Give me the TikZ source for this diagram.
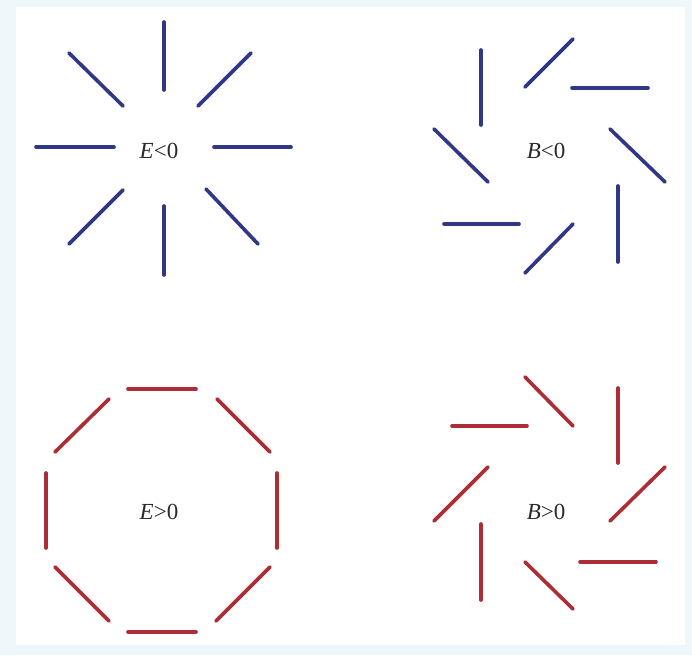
\documentclass[tikz,border=0pt]{standalone}
\usepackage{fontspec}
\setmainfont{Liberation Serif}
\definecolor{navy}{HTML}{303886}
\definecolor{darkred}{HTML}{AD2D36}
\definecolor{framebg}{HTML}{EEF7FA}
\definecolor{txt}{HTML}{2A2A2A}
\tikzset{
  bseg/.style={draw=navy, line width=3.6pt, line cap=round},
  rseg/.style={draw=darkred, line width=3.6pt, line cap=round},
  lbl/.style={anchor=base, inner sep=0pt, text=txt, font=\fontsize{23}{26}\selectfont}
}
\begin{document}
\begin{tikzpicture}[x=1pt,y=-1pt]
\useasboundingbox (0,0) rectangle (692,655);
\fill[framebg] (0,0) rectangle (692,655);
\fill[white] (16,7) rectangle (685,645);
% E<0 : radial star
\draw[bseg] (164,22) -- (164,90);
\draw[bseg] (69,53) -- (123,106);
\draw[bseg] (251,53) -- (198,106);
\draw[bseg] (36,147) -- (114,147);
\draw[bseg] (214,147) -- (291,147);
\draw[bseg] (123,190) -- (69,244);
\draw[bseg] (164,206) -- (164,275);
\draw[bseg] (206,189) -- (258,244);
\node[lbl] (tl) at (159,158) {\textit{E}<0};
% B<0 : pinwheel
\draw[bseg] (481,50) -- (481,125);
\draw[bseg] (525,87) -- (573,39);
\draw[bseg] (572,88) -- (648,88);
\draw[bseg] (610,129) -- (665,182);
\draw[bseg] (618,186) -- (618,262);
\draw[bseg] (573,224) -- (525,273);
\draw[bseg] (444,224) -- (519,224);
\draw[bseg] (434,129) -- (488,182);
\node[lbl] (tr) at (546,158) {\textit{B}<0};
% E>0 : octagon
\draw[rseg] (128,389) -- (196,389);
\draw[rseg] (217,399) -- (270,452);
\draw[rseg] (277,473) -- (277,548);
\draw[rseg] (270,567) -- (216,621);
\draw[rseg] (128,632) -- (196,632);
\draw[rseg] (109,621) -- (55,567);
\draw[rseg] (46,473) -- (46,548);
\draw[rseg] (55,452) -- (109,399);
\node[lbl] (bl) at (159,519) {\textit{E}>0};
% B>0 : pinwheel
\draw[rseg] (525,377) -- (573,426);
\draw[rseg] (618,388) -- (618,463);
\draw[rseg] (452,426) -- (527,426);
\draw[rseg] (665,467) -- (610,521);
\draw[rseg] (488,467) -- (434,521);
\draw[rseg] (481,524) -- (481,600);
\draw[rseg] (525,562) -- (573,609);
\draw[rseg] (580,562) -- (656,562);
\node[lbl] (br) at (546,519) {\textit{B}>0};
\end{tikzpicture}
\end{document}
